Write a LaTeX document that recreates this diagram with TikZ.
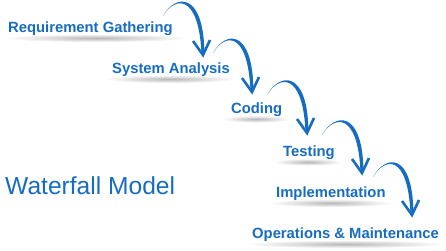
\documentclass[tikz,border=0pt]{standalone}
\usepackage{fontspec}
\setmainfont{Liberation Sans}
\usepackage{tikz}
\definecolor{wfblue}{RGB}{22,108,192}
\tikzstyle{stage}=[anchor=base west, inner sep=0pt, text=wfblue, font=\bfseries\fontsize{14.8}{16}\selectfont]
\tikzstyle{shadow}=[inner color=black!28, outer color=white]
\tikzstyle{barb}=[draw=wfblue, line width=2.6pt, line join=miter, line cap=butt]

\begin{document}
\begin{tikzpicture}
        [x=1pt,y=-1pt]
            \useasboundingbox (0,0) rectangle (446,250);
            % shadows first, text on top
            \shade[shadow] (96,38) ellipse (92 and 4);
            \shade[shadow] (170,79) ellipse (66 and 4);
            \shade[shadow] (256,119) ellipse (34 and 3.5);
            \shade[shadow] (308,162) ellipse (34 and 3.5);
            \shade[shadow] (331,203) ellipse (62 and 4);
            \shade[shadow] (346,244) ellipse (100 and 4);
            \node [stage] (req) at (8,32) {Requirement Gathering} ;
            \node [stage] (sys) at (112,73) {System Analysis} ;
            \node [stage] (cod) at (231,113) {Coding} ;
            \node [stage] (tst) at (283,156) {Testing} ;
            \node [stage] (imp) at (276,197) {Implementation} ;
            \node [stage] (ops) at (252,238) {Operations \& Maintenance} ;
            \node [anchor=base west, inner sep=0pt, text=wfblue, font=\fontsize{24.6}{26}\selectfont] (title) at (5,194) {Waterfall Model} ;
            % arrow ends
            \coordinate (s1) at (163,16) ; \coordinate (t1) at (203,55) ;
            \coordinate (s2) at (213,53) ; \coordinate (t2) at (252,92) ;
            \coordinate (s3) at (267,95) ; \coordinate (t3) at (307,133) ;
            \coordinate (s4) at (322,135) ; \coordinate (t4) at (362,173) ;
            \coordinate (s5) at (373,177) ; \coordinate (t5) at (412,215) ;
            \foreach \i in {1,...,5} {
                \fill [wfblue] (s\i) .. controls +(12,-22) and +(-1,-61) .. ([xshift=1.4pt,yshift=3pt]t\i)
                    -- ([xshift=-1.6pt,yshift=3pt]t\i) .. controls +(-3,-58) and +(12,-20) .. (s\i) -- cycle ;
                \draw [barb] (t\i) ++(-10,-14) -- (t\i) -- ++(7,-15) ;
            }
        \end{tikzpicture}
\end{document}
